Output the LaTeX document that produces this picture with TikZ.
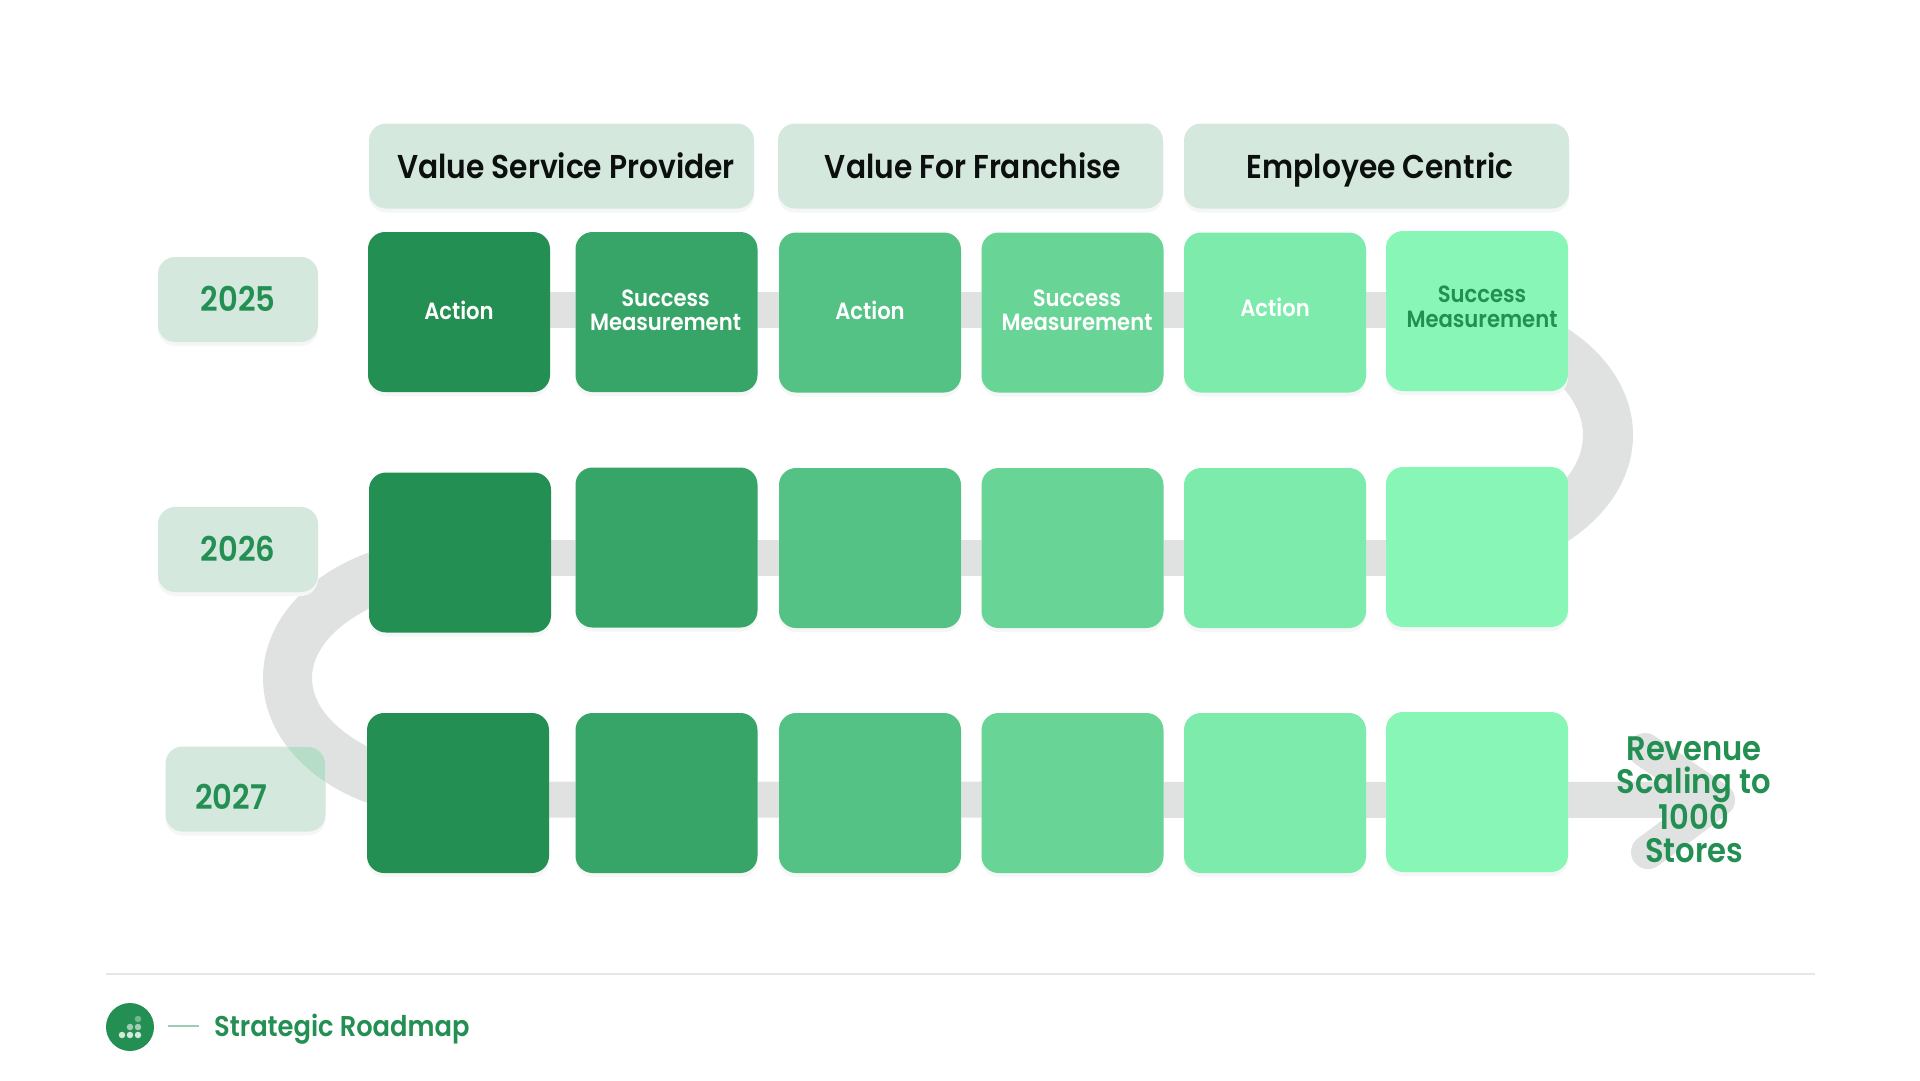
\documentclass[tikz,border=0pt]{standalone}
\usepackage{fontspec}
\setmainfont{Poppins}[FakeStretch=0.9,UprightFont=* SemiBold,BoldFont=* SemiBold]
\definecolor{cA}{HTML}{238F53}
\definecolor{cB}{HTML}{37A567}
\definecolor{cC}{HTML}{55C285}
\definecolor{cD}{HTML}{68D597}
\definecolor{cE}{HTML}{7DEBAB}
\definecolor{cF}{HTML}{88F6B6}
\definecolor{pale}{HTML}{D5E8DE}
\definecolor{rail}{HTML}{E0E2E1}
\definecolor{over}{HTML}{B5DDC8}
\definecolor{shade}{HTML}{F5F6F6}
\definecolor{ink}{HTML}{0B0F0D}
\newcommand{\leftring}{(449,678) ellipse (186 and 139) (525,678) ellipse (213 and 102)}
\newcommand{\rightring}{(1439,435) ellipse (194 and 142) (1383,435) ellipse (200 and 108)}
\tikzset{
  x=1pt,y=-1pt,
  softshade/.style={preaction={fill=shade,transform canvas={yshift=-4pt}}},
  block/.style={draw=none,rounded corners=17pt,minimum width=182pt,minimum height=160pt,inner sep=0pt,softshade},
  yearbox/.style={draw=none,fill=pale,rounded corners=17pt,minimum width=160pt,minimum height=85pt,inner sep=0pt,softshade},
  headbox/.style={draw=none,fill=pale,rounded corners=17pt,minimum width=385pt,minimum height=85pt,inner sep=0pt,softshade},
  railline/.style={draw=rail,line width=36pt},
  yeartext/.style={text=cA,font=\fontsize{34}{38}\selectfont,inner sep=0pt,anchor=base},
  headtext/.style={text=ink,font=\fontsize{33}{38}\selectfont,inner sep=0pt,anchor=base},
  celltext/.style={font=\fontsize{23.5}{24.5}\selectfont,align=center,inner sep=0pt},
  goaltext/.style={text=cA,font=\fontsize{34}{33.5}\selectfont,align=center,inner sep=0pt},
  dot/.style={circle,minimum size=6.5pt,inner sep=0pt,draw=none},
}
\begin{document}
\begin{tikzpicture}
\useasboundingbox (0,0) rectangle (1920,1080);
\fill[white] (0,0) rectangle (1920,1080);
% curves
\begin{scope}
  \clip (200,500) rectangle (372,860);
  \fill[rail,even odd rule] \leftring;
\end{scope}
\begin{scope}
  \clip (1555,280) rectangle (1700,600);
  \fill[rail,even odd rule] \rightring;
\end{scope}
% rails
\coordinate (rail1a) at (545,310);
\coordinate (rail1b) at (1560,310);
\coordinate (rail2a) at (545,558);
\coordinate (rail2b) at (1560,558);
\coordinate (rail3a) at (545,799.5);
\coordinate (tipTop) at (1645,750);
\coordinate (tip) at (1718,800);
\coordinate (tipLow) at (1648,852);
\draw[railline] (rail1a) -- (rail1b);
\draw[railline] (rail2a) -- (rail2b);
\draw[railline] (rail3a) -- (tip);
\draw[railline,line width=34pt,line cap=round,line join=round] (tipTop) -- (tip) -- (tipLow);
% column headers
\node[headbox] (h1) at (561.5,166) {};
\node[headbox] (h2) at (970.5,166) {};
\node[headbox] (h3) at (1376.5,166) {};
\node[headtext] (h1t) at (566,178) {Value Service Provider};
\node[headtext] (h2t) at (973,178) {Value For Franchise};
\node[headtext] (h3t) at (1380,178) {Employee Centric};
% year labels
\node[yearbox] (y1) at (238,299.5) {};
\node[yearbox] (y2) at (238,549.5) {};
\node[yearbox] (y3) at (245.5,789) {};
\begin{scope}
  \clip[rounded corners=17pt] (166,747) rectangle (325,831);
  \fill[over,even odd rule] \leftring;
\end{scope}
\node[yeartext] (y1t) at (238,311) {2025};
\node[yeartext] (y2t) at (238,561) {2026};
\node[yeartext] (y3t) at (231,809) {2027};
% row 1
\node[block,fill=cA] (a1) at (459,312) {};
\node[block,fill=cB] (a2) at (666.5,312) {};
\node[block,fill=cC] (a3) at (870,312.5) {};
\node[block,fill=cD] (a4) at (1072.5,312.5) {};
\node[block,fill=cE] (a5) at (1275,312.5) {};
\node[block,fill=cF] (a6) at (1477,311) {};
% row 2
\node[block,fill=cA] (b1) at (460,552.5) {};
\node[block,fill=cB] (b2) at (666.5,547.5) {};
\node[block,fill=cC] (b3) at (870,548) {};
\node[block,fill=cD] (b4) at (1072.5,548) {};
\node[block,fill=cE] (b5) at (1275,548) {};
\node[block,fill=cF] (b6) at (1477,547) {};
% row 3
\node[block,fill=cA] (c1) at (458,793) {};
\node[block,fill=cB] (c2) at (666.5,793) {};
\node[block,fill=cC] (c3) at (870,793) {};
\node[block,fill=cD] (c4) at (1072.5,793) {};
\node[block,fill=cE] (c5) at (1275,793) {};
\node[block,fill=cF] (c6) at (1477,792) {};
% cell text
\node[celltext,text=white] (a1t) at (459,310) {Action};
\node[celltext,text=white] (a2t) at (665.5,310.5) {Success\\Measurement};
\node[celltext,text=white] (a3t) at (870,310) {Action};
\node[celltext,text=white] (a4t) at (1077,310.5) {Success\\Measurement};
\node[celltext,text=white] (a5t) at (1275,307) {Action};
\node[celltext,text=cA] (a6t) at (1482,307) {Success\\Measurement};
% goal
\node[goaltext] (goal) at (1694,800) {Revenue\\Scaling to\\1000\\Stores};
% footer
\coordinate (ruleA) at (106,974);
\coordinate (ruleB) at (1815,974);
\draw[line width=1.5pt,draw=rail!85!white] (ruleA) -- (ruleB);
\node[circle,fill=cA,minimum size=48pt,inner sep=0pt] (logo) at (130,1027) {};
\node[dot,fill=pale] (d1) at (122,1035) {};
\node[dot,fill=pale] (d2) at (130,1035) {};
\node[dot,fill=pale] (d3) at (138,1035) {};
\node[dot,fill=pale!70!cA] (d4) at (130,1027) {};
\node[dot,fill=pale!70!cA] (d5) at (138,1027) {};
\node[dot,fill=pale!45!cA] (d6) at (138,1019) {};
\coordinate (dashA) at (168,1026);
\coordinate (dashB) at (199,1026);
\draw[line width=1.5pt,draw=cA!45!white] (dashA) -- (dashB);
\node[anchor=west,text=cA,font=\fontsize{28.6}{32}\selectfont,inner sep=0pt] (foot) at (214,1029) {Strategic Roadmap};
\end{tikzpicture}
\end{document}
